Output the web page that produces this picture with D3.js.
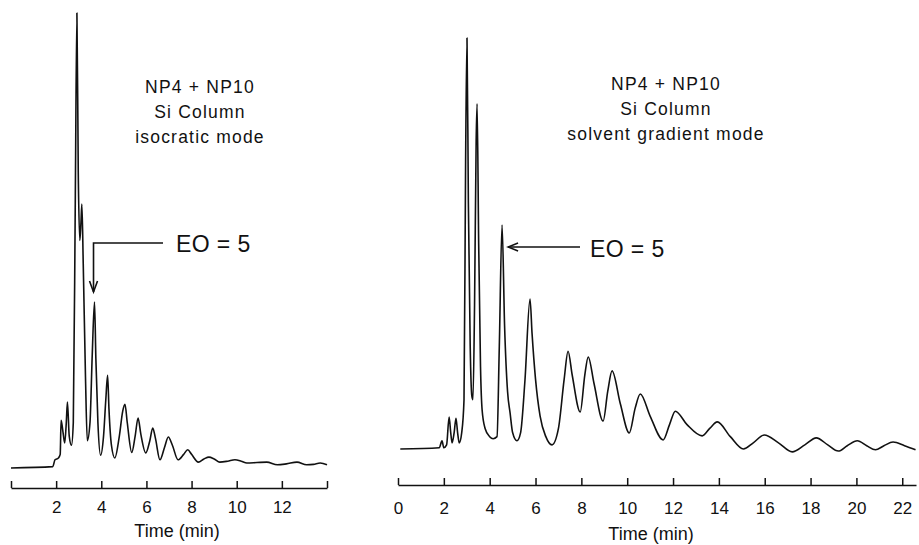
<!DOCTYPE html>
<html>
<head>
<meta charset="utf-8">
<script src="https://cdn.jsdelivr.net/npm/d3@7"></script>
<style>
  body { margin: 0; background: #fff; }
  svg { display: block; font-family: "Liberation Sans", Arial, Helvetica, sans-serif; }
</style>
</head>
<body>
<div id="chart"></div>
<script>
"use strict";

// Chromatogram traces: [time (min), detector signal, 0-100 relative]
const isocraticTrace = [
  [0, 0], [1.85, 0.3], [1.95, 1.8], [2.1, 2.2], [2.18, 3], [2.22, 10.5], [2.3, 8], [2.38, 5.5],
  [2.45, 10], [2.5, 14.5], [2.58, 7], [2.68, 5], [2.76, 10], [2.85, 60], [2.92, 100], [2.98, 65],
  [3.05, 50], [3.1, 54], [3.14, 58], [3.2, 45], [3.3, 20], [3.38, 6], [3.5, 10], [3.6, 25],
  [3.7, 36.5], [3.76, 24], [3.85, 10], [3.97, 2.8], [4.1, 7], [4.2, 15], [4.28, 20.4], [4.34, 13],
  [4.45, 5], [4.6, 2.2], [4.8, 7], [4.95, 12.5], [5.05, 14], [5.15, 10], [5.35, 3.4], [5.5, 7],
  [5.63, 11], [5.75, 7.5], [5.97, 3.3], [6.15, 6], [6.28, 8.8], [6.4, 6.5], [6.6, 1.8], [6.8, 4.5],
  [6.97, 6.8], [7.15, 5], [7.4, 1.8], [7.65, 3], [7.83, 4], [8.0, 3], [8.3, 1.3], [8.55, 2],
  [8.77, 2.4], [9.0, 2], [9.25, 1.3], [9.6, 1.5], [9.92, 1.8], [10.2, 1.5], [10.45, 1.1], [10.9, 1.2],
  [11.33, 1.3], [11.8, 0.7], [12.2, 0.9], [12.67, 1.3], [13.1, 0.7], [13.4, 0.8], [13.7, 1.1], [14.0, 0.7]
];

const gradientTrace = [
  [0.1, 0], [1.8, 0.3], [1.92, 2], [2.0, 0.3], [2.12, 1], [2.23, 7.8], [2.3, 4], [2.36, 1.5],
  [2.45, 4], [2.53, 7.5], [2.6, 4], [2.67, 1.5], [2.78, 4], [2.88, 12], [2.95, 70], [3.01, 100],
  [3.07, 60], [3.15, 25], [3.22, 13], [3.27, 12], [3.34, 35], [3.41, 75], [3.45, 84], [3.52, 50],
  [3.6, 20], [3.67, 9.5], [3.8, 5], [4.0, 3], [4.15, 2.5], [4.32, 3], [4.42, 25], [4.54, 54.5],
  [4.65, 30], [4.78, 14], [4.89, 8.8], [5.0, 4], [5.19, 2], [5.35, 4], [5.54, 16.8], [5.76, 36.5],
  [5.85, 28], [6.0, 17], [6.2, 8], [6.45, 3], [6.72, 1], [7.0, 5], [7.25, 17], [7.42, 23.8],
  [7.6, 18], [7.95, 9], [8.15, 18], [8.3, 22.4], [8.55, 16], [8.95, 6.8], [9.15, 14], [9.34, 19],
  [9.7, 11], [10.09, 3.9], [10.35, 10], [10.57, 13.4], [11.0, 8], [11.57, 2.2], [11.85, 6], [12.1, 9.2],
  [12.6, 6], [13.27, 3.2], [13.6, 5], [13.93, 6.6], [14.5, 3], [15.07, 0], [15.5, 1.5], [15.98, 3.4],
  [16.6, 1.5], [17.2, -0.7], [17.75, 1], [18.25, 2.7], [18.75, 1], [19.21, -0.5], [19.6, 0.8], [20.04, 2],
  [20.45, 0.8], [20.83, -0.2], [21.2, 0.8], [21.6, 1.7], [22.1, 0.8], [22.58, -0.2]
];

const isocraticTicks = [0, 2, 4, 6, 8, 10, 12, 14];
const isocraticTickLabels = ["", "2", "4", "6", "8", "10", "12", ""];
const gradientTicks = [0, 2, 4, 6, 8, 10, 12, 14, 16, 18, 20, 22];

const isocraticLabel = ["NP4 + NP10", "Si Column", "isocratic mode"];
const gradientLabel = ["NP4 + NP10", "Si Column", "solvent gradient mode"];
const eoLabel = "EO = 5";
const eoTimeIsocratic = 3.7;
const eoTimeGradient = 4.54;

const width = 919, height = 545;
const ink = "#111";

const svg = d3.select("#chart")
  .append("svg")
  .attr("width", width)
  .attr("height", height);

const xL = d3.scaleLinear().domain([0, 14]).range([11, 327]);
const yL = d3.scaleLinear().domain([0, 100]).range([468, 13]);
const xR = d3.scaleLinear().domain([0, 22.6]).range([398, 916]);
const yR = d3.scaleLinear().domain([0, 100]).range([449, 38]);

function drawPanel(g, x, y, trace, axisY, ticks, tickFmt, pad) {
  const line = d3.line()
    .x(d => x(d[0]))
    .y(d => y(d[1]))
    .curve(d3.curveMonotoneX);

  g.append("path")
    .datum(trace)
    .attr("fill", "none")
    .attr("stroke", ink)
    .attr("stroke-width", 1.6)
    .attr("stroke-linejoin", "round")
    .attr("d", line);

  const axis = d3.axisBottom(x)
    .tickValues(ticks)
    .tickFormat(tickFmt)
    .tickSizeInner(-7)
    .tickSizeOuter(0)
    .tickPadding(pad);

  const ax = g.append("g")
    .attr("transform", `translate(0, ${axisY})`)
    .call(axis);
  ax.select(".domain").attr("stroke", ink).attr("stroke-width", 1.6);
  ax.selectAll(".tick line").attr("stroke", ink).attr("stroke-width", 1.5);
  ax.selectAll(".tick text")
    .attr("fill", ink)
    .attr("font-size", "17px")
    .attr("font-family", "'Liberation Sans', Arial, sans-serif");
}

const left = svg.append("g");
drawPanel(left, xL, yL, isocraticTrace, 488, isocraticTicks, (d, i) => isocraticTickLabels[i], 13);

const right = svg.append("g");
drawPanel(right, xR, yR, gradientTrace, 485, gradientTicks, d => d, 17);

// axis titles
svg.append("text")
  .attr("x", 177).attr("y", 537)
  .attr("text-anchor", "middle")
  .attr("font-size", "18px")
  .attr("fill", ink)
  .text("Time (min)");

svg.append("text")
  .attr("x", 651).attr("y", 540)
  .attr("text-anchor", "middle")
  .attr("font-size", "18px")
  .attr("fill", ink)
  .text("Time (min)");

// condition labels
function conditionText(lines, cx, y0) {
  svg.append("g").selectAll("text")
    .data(lines)
    .enter()
    .append("text")
    .attr("x", cx)
    .attr("y", (d, i) => y0 + i * 25)
    .attr("text-anchor", "middle")
    .attr("font-size", "17.5px")
    .attr("letter-spacing", "1.2px")
    .attr("fill", ink)
    .text(d => d);
}
conditionText(isocraticLabel, 200, 93);
conditionText(gradientLabel, 666, 90);

// EO = 5 callouts
svg.append("text")
  .attr("x", 176).attr("y", 252)
  .attr("font-size", "23px")
  .attr("letter-spacing", "0.4px")
  .attr("fill", ink)
  .text(eoLabel);

const ax1 = xL(eoTimeIsocratic) - 1;
svg.append("path")
  .attr("d", `M163,243 H${ax1} V292`)
  .attr("fill", "none")
  .attr("stroke", ink)
  .attr("stroke-width", 1.6);
svg.append("path")
  .attr("d", `M${ax1 - 4},281 L${ax1},292 L${ax1 + 4},281`)
  .attr("fill", "none")
  .attr("stroke", ink)
  .attr("stroke-width", 1.6);

svg.append("text")
  .attr("x", 590).attr("y", 257)
  .attr("font-size", "23px")
  .attr("letter-spacing", "0.4px")
  .attr("fill", ink)
  .text(eoLabel);

const ax2 = xR(eoTimeGradient) + 6;
svg.append("path")
  .attr("d", `M580,247 H${ax2}`)
  .attr("fill", "none")
  .attr("stroke", ink)
  .attr("stroke-width", 1.5);
svg.append("path")
  .attr("d", `M${ax2 + 10},243 L${ax2},247 L${ax2 + 10},251`)
  .attr("fill", "none")
  .attr("stroke", ink)
  .attr("stroke-width", 1.5);
</script>
</body>
</html>
